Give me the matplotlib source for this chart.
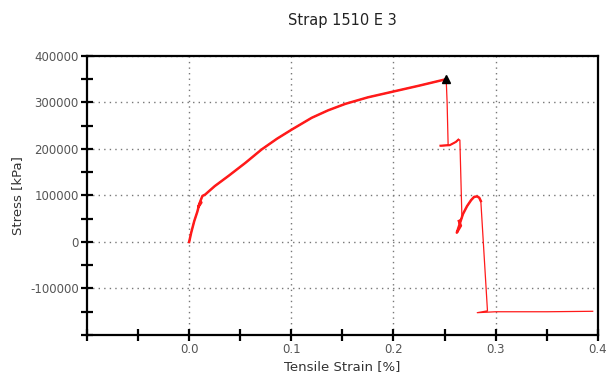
import matplotlib
matplotlib.use("Agg")
import matplotlib.pyplot as plt
from matplotlib.ticker import MultipleLocator

# strain [%] and stress [kPa]
strain = [0.0, 0.002, 0.005, 0.008, 0.010, 0.012, 0.009, 0.011, 0.013, 0.0157,
          0.025, 0.0385, 0.055, 0.071, 0.086, 0.1007, 0.120, 0.136, 0.153, 0.175,
          0.199, 0.225, 0.2516,
          0.2525, 0.2535, 0.246, 0.255, 0.261, 0.2635, 0.265,
          0.267, 0.264, 0.266, 0.262, 0.265, 0.268, 0.272, 0.276, 0.279, 0.282,
          0.284, 0.2855,
          0.292, 0.282, 0.30, 0.35, 0.395]
stress = [0, 20000, 45000, 65000, 82000, 85000, 75000, 88000, 99000, 102000,
          120000, 142000, 170000, 199000, 222000, 242000, 267000, 283000, 297000, 311000,
          323000, 336000, 350000,
          300000, 208000, 207000, 208000, 215000, 220000, 219000,
          52000, 45000, 35000, 20000, 40000, 60000, 77000, 90000, 97000, 98000,
          95000, 88000,
          -148000, -152000, -150000, -150000, -149000]

peak_x = [0.2516]
peak_y = [351000]

x_labels = [0.0, 0.1, 0.2, 0.3, 0.4]
y_labels = [-100000, 0, 100000, 200000, 300000, 400000]

fig = plt.figure(figsize=(6.1, 3.83), dpi=100)
ax = fig.add_axes([0.1426, 0.1253, 0.8374, 0.7287])

red = "#ff1a1a"
ax.plot(strain, stress, color=red, linewidth=0.9)
# dense (noisy) parts of the record look thicker
ax.plot(strain[:23], stress[:23], color=red, linewidth=1.8)
ax.plot(strain[31:42], stress[31:42], color=red, linewidth=1.8)
ax.plot(strain[25:29], stress[25:29], color=red, linewidth=1.5)
ax.plot(peak_x, peak_y, marker="^", color="black", markersize=6, linestyle="none")

ax.set_xlim(-0.1, 0.4)
ax.set_ylim(-200000, 400000)
ax.set_xticks(x_labels)
ax.set_xticklabels(["0.0", "0.1", "0.2", "0.3", "0.4"])
ax.set_yticks(y_labels)
ax.set_yticklabels([str(v) for v in y_labels])
ax.xaxis.set_minor_locator(MultipleLocator(0.05))
ax.yaxis.set_minor_locator(MultipleLocator(50000))

ax.grid(True, which="major", linestyle=(0, (1, 3)), color="#777777", linewidth=1.0)
ax.tick_params(which="both", direction="inout", length=8, width=1.6, colors="black",
               labelcolor="#555555", labelsize=8.5, pad=2)
for s in ax.spines.values():
    s.set_linewidth(1.6)

ax.set_title("Strap 1510 E 3", fontsize=10.5, color="#222222", pad=22)
ax.set_xlabel("Tensile Strain [%]", fontsize=9.5, color="#333333", labelpad=3)
ax.set_ylabel("Stress [kPa]", fontsize=9.5, color="#333333", labelpad=4)

fig.savefig("out.png", dpi=100)
